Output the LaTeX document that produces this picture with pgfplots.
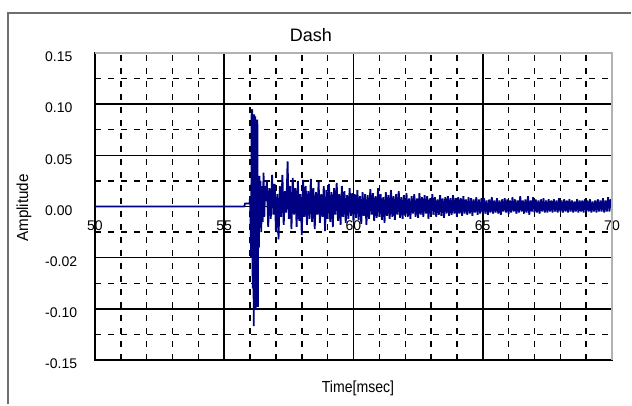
\documentclass[border=0pt]{standalone}
\usepackage{fontspec}
\setmainfont{Liberation Sans}
\usepackage{graphicx}
\usepackage{pgfplots}
\pgfplotsset{compat=1.18}
\definecolor{sig}{RGB}{0,0,130}
\definecolor{framegray}{RGB}{110,110,110}
\pgfplotstableread{
t v
50.00 0
55.78 0
55.80 0.003
55.98 0.003
56.00 0.01
56.04 -0.05
56.06 0.09
56.08 0.095
56.10 -0.08
56.12 0.085
56.14 -0.117
56.16 0.09
56.18 -0.06
56.20 0.088
56.22 -0.10
56.24 0.08
56.26 -0.098
56.28 0.085
56.30 -0.098
56.32 0.02
56.34 -0.04
56.36 0.03
56.38 -0.02
56.40 0.025
56.43 -0.025
56.46 0.02
56.49 -0.015
56.52 0.033
56.55 -0.01
56.58 0.02
56.60 0.005
56.65 0.025
56.70 -0.02
56.75 0.018
56.80 -0.012
56.85 0.031
56.90 -0.008
56.95 0.022
57.00 -0.025
57.05 0.012
57.10 -0.032
57.15 0.02
57.20 -0.01
57.25 0.031
57.30 -0.018
57.35 0.015
57.40 -0.006
57.45 0.044
57.50 -0.012
57.55 0.02
57.60 -0.022
57.65 0.028
57.70 -0.008
57.75 0.018
57.80 -0.02
57.85 0.025
57.90 -0.014
57.95 0.012
58.00 -0.028
58.05 0.026
58.10 -0.01
58.15 0.02
58.20 -0.018
58.25 0.015
58.30 -0.012
58.35 0.027
58.40 -0.015
58.45 0.018
58.50 -0.022
58.55 0.014
58.60 -0.008
58.65 0.024
58.70 -0.016
58.75 0.012
58.80 -0.01
58.85 0.02
58.90 -0.024
58.95 0.016
59.00 -0.012
59.05 0.022
59.10 -0.015
59.15 0.014
59.20 -0.02
59.25 0.018
59.30 -0.008
59.35 0.023
59.40 -0.014
59.45 0.012
59.50 -0.018
59.55 0.02
59.60 -0.01
59.65 0.015
59.70 -0.016
59.75 0.011
59.80 -0.012
59.85 0.018
59.90 -0.009
59.95 0.013
60.00 -0.015
60.05 0.012
60.10 -0.011
60.15 0.016
60.20 -0.013
60.25 0.01
60.30 -0.017
60.35 0.014
60.40 -0.009
60.45 0.012
60.50 -0.018
60.55 0.011
60.60 -0.012
60.65 0.017
60.70 -0.008
60.75 0.013
60.80 -0.014
60.85 0.01
60.90 -0.011
60.95 0.018
61.00 -0.01
61.05 0.012
61.10 -0.013
61.15 0.009
61.20 -0.016
61.25 0.014
61.30 -0.009
61.35 0.011
61.40 -0.012
61.45 0.016
61.50 -0.01
61.55 0.01
61.60 -0.013
61.65 0.012
61.70 -0.008
61.75 0.015
61.80 -0.011
61.85 0.009
61.90 -0.012
61.95 0.011
62.00 -0.009
62.05 0.013
62.10 -0.01
62.15 0.008
62.20 -0.012
62.25 0.01
62.30 -0.007
62.35 0.012
62.40 -0.01
62.45 0.008
62.50 -0.011
62.55 0.013
62.60 -0.008
62.65 0.009
62.70 -0.01
62.75 0.011
62.80 -0.007
62.85 0.01
62.90 -0.012
62.95 0.008
63.00 -0.009
63.05 0.012
63.10 -0.008
63.15 0.009
63.20 -0.01
63.25 0.007
63.30 -0.008
63.35 0.011
63.40 -0.009
63.45 0.008
63.50 -0.011
63.55 0.009
63.60 -0.007
63.65 0.01
63.70 -0.009
63.75 0.008
63.80 -0.008
63.85 0.011
63.90 -0.007
63.95 0.008
64.00 -0.01
64.05 0.009
64.10 -0.007
64.15 0.008
64.20 -0.009
64.25 0.01
64.30 -0.007
64.35 0.007
64.40 -0.008
64.45 0.009
64.50 -0.007
64.55 0.008
64.60 -0.009
64.65 0.007
64.70 -0.006
64.75 0.009
64.80 -0.008
64.85 0.007
64.90 -0.007
64.95 0.008
65.00 -0.006
65.05 0.008
65.10 -0.007
65.15 0.006
65.20 -0.008
65.25 0.007
65.30 -0.006
65.35 0.009
65.40 -0.007
65.45 0.006
65.50 -0.006
65.55 0.008
65.60 -0.007
65.65 0.006
65.70 -0.008
65.75 0.007
65.80 -0.005
65.85 0.008
65.90 -0.006
65.95 0.007
66.00 -0.007
66.05 0.006
66.10 -0.006
66.15 0.009
66.20 -0.005
66.25 0.007
66.30 -0.007
66.35 0.006
66.40 -0.006
66.45 0.01
66.50 -0.005
66.55 0.006
66.60 -0.007
66.65 0.007
66.70 -0.006
66.75 0.01
66.80 -0.008
66.85 0.006
66.90 -0.005
66.95 0.009
67.00 -0.006
67.05 0.007
67.10 -0.006
67.15 0.006
67.20 -0.007
67.25 0.007
67.30 -0.005
67.35 0.008
67.40 -0.006
67.45 0.006
67.50 -0.006
67.55 0.007
67.60 -0.005
67.65 0.006
67.70 -0.006
67.75 0.007
67.80 -0.005
67.85 0.006
67.90 -0.006
67.95 0.008
68.00 -0.005
68.05 0.006
68.10 -0.006
68.15 0.007
68.20 -0.005
68.25 0.006
68.30 -0.006
68.35 0.007
68.40 -0.005
68.45 0.006
68.50 -0.006
68.55 0.005
68.60 -0.005
68.65 0.007
68.70 -0.006
68.75 0.006
68.80 -0.005
68.85 0.006
68.90 -0.006
68.95 0.007
69.00 -0.005
69.05 0.006
69.10 -0.005
69.15 0.007
69.20 -0.006
69.25 0.005
69.30 -0.005
69.35 0.006
69.40 -0.006
69.45 0.007
69.50 -0.005
69.55 0.006
69.60 -0.005
69.65 0.008
69.70 -0.006
69.75 0.006
69.80 -0.005
69.85 0.009
69.90 -0.005
69.95 0.007
70.00 0.002
}\signal
\begin{document}
\begin{tikzpicture}
\begin{axis}[
  scale only axis, width=517pt, height=307pt,
  xmin=50, xmax=70, ymin=-0.15, ymax=0.15,
  xtick={50,55,60,65,70},
  xticklabels={50,55,60,65,70},
  ytick={-0.15,-0.1,-0.05,0,0.05,0.1,0.15},
  yticklabels={-0.15,-0.10,-0.02,0.00,0.05,0.10,0.15},
  minor x tick num=4, minor y tick num=1,
  grid=both,
  major grid style={black, line width=1.6pt},
  minor grid style={black, line width=1.4pt, dash pattern=on 6pt off 7pt},
  major tick length=0pt, minor tick length=0pt,
  axis line style={black, line width=1.6pt},
  /pgf/number format/assume math mode=true,
  ticklabel style={font=\fontsize{14}{16}\selectfont},
  yticklabel style={anchor=west, inner sep=0pt, xshift=-50pt, yshift=-4pt},
  xticklabel style={anchor=center, inner sep=0pt, yshift=134pt},
  scaled y ticks=false,
]
\addplot[sig, line width=1.8pt, line join=bevel] table[x=t, y=v] {\signal};
\coordinate (SW) at (rel axis cs:0,0);
\coordinate (NE) at (rel axis cs:1,1);
\coordinate (NW) at (rel axis cs:0,1);
\coordinate (SE) at (rel axis cs:1,0);
\end{axis}
\draw[gray!60, line width=1.6pt] (NW) -- (NE) -- (SE);
\path ([shift={(-95pt,-45pt)}]SW) rectangle ([shift={(20pt,53pt)}]NE);
\draw[framegray, line width=1.5pt] ([shift={(-87pt,-44pt)}]SW) -- ([shift={(-87pt,347pt)}]SW) -- ([shift={(536pt,347pt)}]SW);
\node[inner sep=0pt, font=\fontsize{18}{20}\selectfont] at ([shift={(216pt,325pt)}]SW) {Dash};
\node[inner sep=0pt, rotate=90, font=\fontsize{16}{18}\selectfont] at ([shift={(-71pt,152pt)}]SW) {\scalebox{0.95}[1]{Amplitude}};
\node[inner sep=0pt, font=\fontsize{16}{18}\selectfont] at ([shift={(263pt,-28pt)}]SW) {\scalebox{0.88}[1]{Time[msec]}};
\end{tikzpicture}
\end{document}
